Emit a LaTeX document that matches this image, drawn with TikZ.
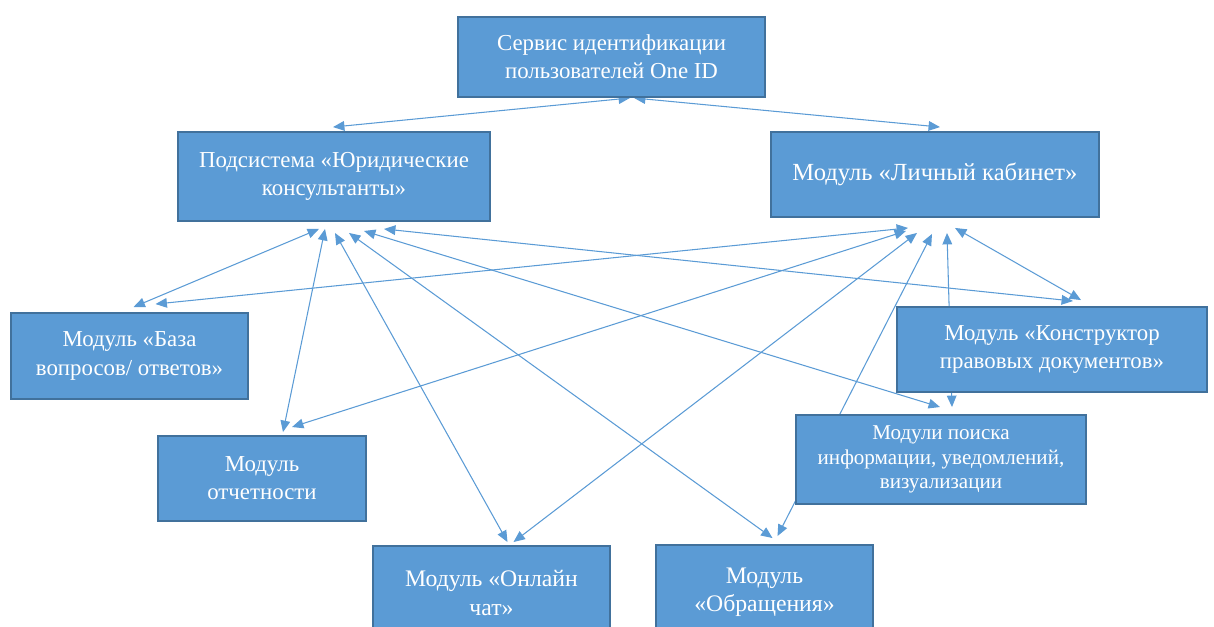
\documentclass[tikz,border=0pt]{standalone}
\usepackage{fontspec}
\setmainfont{Liberation Serif}
\usetikzlibrary{arrows.meta, backgrounds}
\definecolor{boxfill}{RGB}{91,155,213}
\definecolor{boxborder}{RGB}{65,113,156}
\definecolor{linkblue}{RGB}{91,155,213}
\tikzset{
  module/.style={rectangle, draw=boxborder, line width=1.1pt, fill=boxfill,
                 text=white, align=center, inner sep=0pt,
                 font=\fontsize{13}{16}\selectfont},
  link/.style={{Triangle[length=6.5pt, width=5.5pt]}-{Triangle[length=6.5pt, width=5.5pt]},
               line width=0.6pt, color=linkblue},
}

\begin{document}
\begin{tikzpicture}[x=0.02cm, y=-0.02cm]
        \useasboundingbox (0,0) rectangle (1214,626);
        \clip (0,0) rectangle (1214,626);
        \node[module, minimum width=6.14cm, minimum height=1.6cm] (oneid) at (611.5,57)
              {Сервис идентификации\\пользователей One ID};
        \node[module, minimum width=6.24cm, minimum height=1.78cm] (legal) at (334,176.5)
              {Подсистема «Юридические\\консультанты»};
        \node[module, minimum width=6.56cm, minimum height=1.7cm,
              font=\fontsize{14}{16}\selectfont] (lk) at (935,174.5)
              {Модуль «Личный кабинет»};
        \node[module, minimum width=4.74cm, minimum height=1.72cm] (baza) at (129.5,356)
              {Модуль «База\\вопросов/ ответов»};
        \node[module, minimum width=6.2cm, minimum height=1.7cm] (konstr) at (1052,349.5)
              {Модуль «Конструктор\\правовых документов»};
        \node[module, minimum width=5.8cm, minimum height=1.78cm,
              font=\fontsize{12}{14}\selectfont] (poisk) at (941,459.5)
              {Модули поиска\\информации, уведомлений,\\визуализации};
        \node[module, minimum width=4.16cm, minimum height=1.7cm] (otchet) at (262,478.5)
              {Модуль\\отчетности};
        \node[module, minimum width=4.74cm, minimum height=1.88cm,
              font=\fontsize{13.5}{16}\selectfont] (chat) at (491.5,593)
              {Модуль «Онлайн\\чат»};
        \node[module, minimum width=4.34cm, minimum height=1.9cm,
              font=\fontsize{13.5}{16}\selectfont] (obr) at (764.5,592.5)
              {Модуль\\«Обращения»};
        \begin{scope}[on background layer]
          \draw[link] ([shift={(-1,-4)}]legal.north) -- ([shift={(18.5,0)}]oneid.south);
          \draw[link] ([shift={(5,-4)}]lk.north) -- ([shift={(22.5,0)}]oneid.south);
          \draw[link] ([shift={(-15,7)}]legal.south) -- ([shift={(4,-5)}]baza.north);
          \draw[link] ([shift={(-9,7)}]legal.south) -- ([shift={(21,-3)}]otchet.north);
          \draw[link] ([shift={(1,11)}]legal.south) -- ([shift={(16,-3)}]chat.north);
          \draw[link] ([shift={(15,11)}]legal.south) -- ([shift={(8,-6)}]obr.north);
          \draw[link] ([shift={(30,9)}]legal.south) -- ([shift={(-1,-7)}]poisk.north);
          \draw[link] ([shift={(50,7)}]legal.south) -- ([shift={(21,-5)}]konstr.north);
          \draw[link] ([shift={(-27,10)}]lk.south) -- ([shift={(26,-8)}]baza.north);
          \draw[link] ([shift={(-29,13)}]lk.south) -- ([shift={(30,-8)}]otchet.north);
          \draw[link] ([shift={(-18,15)}]lk.south) -- ([shift={(22,-3)}]chat.north);
          \draw[link] ([shift={(-3,16)}]lk.south) -- ([shift={(13,-8)}]obr.north);
          \draw[link] ([shift={(12,15)}]lk.south) -- ([shift={(11,-7)}]poisk.north);
          \draw[link] ([shift={(20,10)}]lk.south) -- ([shift={(29,-6)}]konstr.north);
        \end{scope}
      \end{tikzpicture}
\end{document}
